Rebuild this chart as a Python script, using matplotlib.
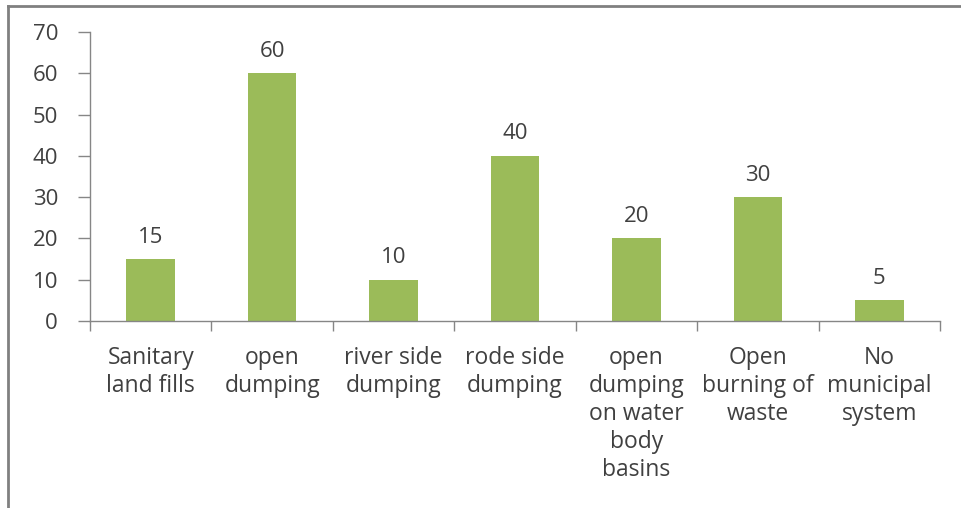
import matplotlib.pyplot as plt
from matplotlib.lines import Line2D

plt.rcParams['font.family'] = ['Open Sans', 'DejaVu Sans']

categories = ["Sanitary\nland fills", "open\ndumping", "river side\ndumping",
              "rode side\ndumping", "open\ndumping\non water\nbody\nbasins",
              "Open\nburning of\nwaste", "No\nmunicipal\nsystem"]
values = [15, 60, 10, 40, 20, 30, 5]

bar_color = "#9BBB59"
text_color = "#404040"
axis_color = "#868686"

fig = plt.figure(figsize=(9.61, 5.08), dpi=100)
ax = fig.add_axes([90/961, 1 - 321/508, 850/961, 289/508])

x = list(range(len(values)))
ax.bar(x, values, width=0.4, color=bar_color, zorder=2)
for xi, v in zip(x, values):
    ax.text(xi, v + 2.8, str(v), ha="center", va="bottom", fontsize=16, color=text_color)

ax.set_xlim(-0.5, len(values) - 0.5)
ax.set_ylim(0, 70)
ax.set_yticks(range(0, 71, 10))
ax.tick_params(axis="y", labelsize=16, labelcolor=text_color, color=axis_color,
               length=9, width=1, pad=14)

# category labels between boundary ticks
ax.set_xticks([i - 0.5 for i in range(len(values) + 1)])
ax.set_xticklabels([])
ax.tick_params(axis="x", color=axis_color, length=7, width=1, direction="out")
for xi, lab in zip(x, categories):
    ax.text(xi, -6.0, lab, ha="center", va="top", fontsize=16.5, color=text_color,
            linespacing=1.22)

for side in ["top", "right"]:
    ax.spines[side].set_visible(False)
for side in ["left", "bottom"]:
    ax.spines[side].set_color(axis_color)
    ax.spines[side].set_linewidth(1)

# outer chart frame
fig.add_artist(Line2D([8/961, 1], [1 - 6/508, 1 - 6/508], color="#808080", lw=2,
                      transform=fig.transFigure))
fig.add_artist(Line2D([8/961, 8/961], [0, 1 - 6/508], color="#808080", lw=2,
                      transform=fig.transFigure))

fig.savefig("out.png", dpi=100)
